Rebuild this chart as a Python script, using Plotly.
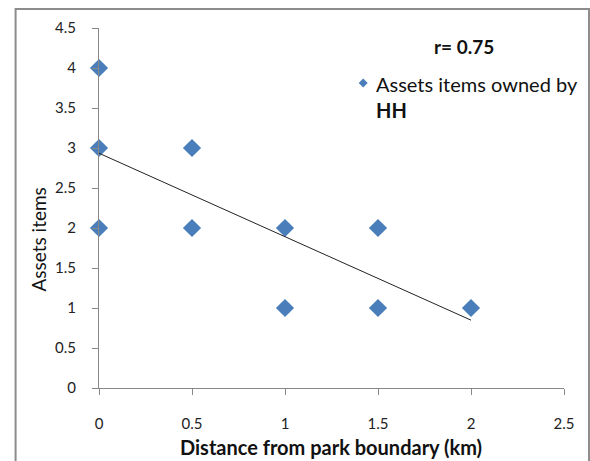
import numpy as np
import plotly.graph_objects as go

distance_km = [0, 0, 0, 0.5, 0.5, 1, 1, 1.5, 1.5, 2]
asset_items = [4, 3, 2, 3, 2, 2, 1, 2, 1, 1]
x_ticks = [0, 0.5, 1, 1.5, 2, 2.5]
y_ticks = [0, 0.5, 1, 1.5, 2, 2.5, 3, 3.5, 4, 4.5]

slope, intercept = np.polyfit(distance_km, asset_items, 1)
trend_x = [min(distance_km), max(distance_km)]
trend_y = [intercept + slope * v for v in trend_x]

FONT = "Lato, Carlito, Calibri, sans-serif"
W, H = 590, 461
L, R, T, B = 98.5, 26, 28, 73
pw, ph = W - L - R, H - T - B

def px_to_paper_x(px):
    return (px - L) / pw

def px_to_paper_y(py):
    return (H - B - py) / ph

fig = go.Figure()
fig.add_trace(go.Scatter(
    x=distance_km, y=asset_items, mode="markers", name="Assets items owned by HH",
    marker=dict(symbol="diamond", size=14, color="#4a7ebb"),
    showlegend=False, cliponaxis=False,
))
fig.add_trace(go.Scatter(
    x=trend_x, y=trend_y, mode="lines", line=dict(color="#222222", width=1),
    showlegend=False, hoverinfo="skip",
))

axis_common = dict(
    showgrid=False, zeroline=False, showline=True, linecolor="#888888", linewidth=1,
    ticks="outside", tickcolor="#888888", ticklen=6, tickwidth=1,
    tickfont=dict(family=FONT, size=15, color="#222222"),
)
fig.update_xaxes(range=[0, 2.5], tickvals=x_ticks, ticktext=[f"{v:g}" for v in x_ticks],
                 ticklabelstandoff=16, **axis_common)
fig.update_yaxes(range=[0, 4.5], tickvals=y_ticks, ticktext=[f"{v:g}" for v in y_ticks],
                 ticklabelstandoff=13, **axis_common)

annotations = [
    dict(text="<b>Distance from park boundary (km)</b>", x=px_to_paper_x(331), y=px_to_paper_y(447),
         xref="paper", yref="paper", showarrow=False, xanchor="center", yanchor="middle",
         font=dict(family=FONT, size=20, color="#111111")),
    dict(text="Assets items", x=px_to_paper_x(37), y=px_to_paper_y(240),
         xref="paper", yref="paper", showarrow=False, xanchor="center", yanchor="middle",
         textangle=-90, font=dict(family=FONT, size=19, color="#111111")),
    dict(text="<b>r= 0.75</b>", x=px_to_paper_x(464), y=px_to_paper_y(46),
         xref="paper", yref="paper", showarrow=False, xanchor="center", yanchor="middle",
         font=dict(family=FONT, size=19, color="#111111")),
    dict(text="Assets items owned by<br><b>HH</b>", x=px_to_paper_x(374), y=px_to_paper_y(70),
         xref="paper", yref="paper", showarrow=False, xanchor="left", yanchor="top", align="left",
         font=dict(family=FONT, size=20, color="#111111")),
]

d = 4.5
cx, cy = 363, 83
diamond_path = (f"M {px_to_paper_x(cx)} {px_to_paper_y(cy - d)} "
                f"L {px_to_paper_x(cx + d)} {px_to_paper_y(cy)} "
                f"L {px_to_paper_x(cx)} {px_to_paper_y(cy + d)} "
                f"L {px_to_paper_x(cx - d)} {px_to_paper_y(cy)} Z")

shapes = [
    dict(type="rect", xref="paper", yref="paper",
         x0=px_to_paper_x(15), x1=px_to_paper_x(589), y0=px_to_paper_y(475), y1=px_to_paper_y(9),
         line=dict(color="#8c8c8c", width=2), fillcolor="rgba(0,0,0,0)", layer="below"),
    dict(type="path", xref="paper", yref="paper", path=diamond_path,
         fillcolor="#4a7ebb", line=dict(width=0)),
]

fig.update_layout(
    width=W, height=H, autosize=False,
    margin=dict(l=L, r=R, t=T, b=B),
    paper_bgcolor="white", plot_bgcolor="white",
    annotations=annotations, shapes=shapes,
    font=dict(family=FONT),
)

fig.write_html(
    "out.html",
    config={"displayModeBar": False},
    post_script="document.body.style.margin='0';document.body.style.padding='0';",
)
